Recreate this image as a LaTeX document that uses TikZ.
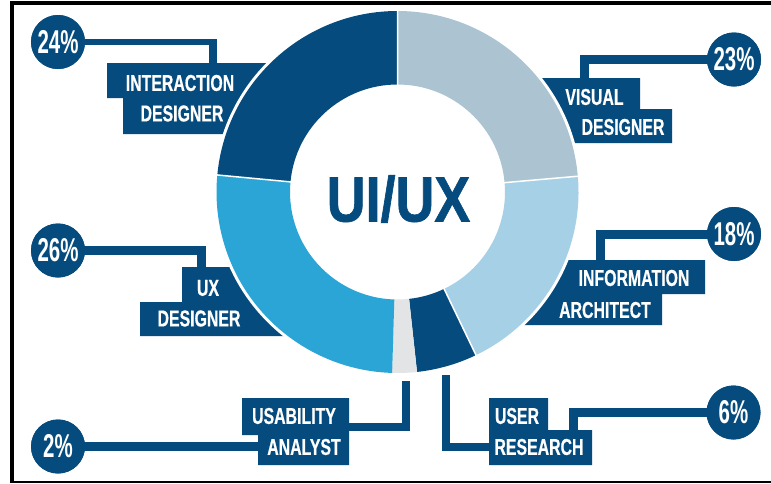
\documentclass[tikz,border=0pt]{standalone}
\usepackage{fontspec}
\setmainfont{Liberation Sans}
\newfontfamily\lblfont[FakeStretch=0.69,FakeBold=0.6]{Liberation Sans Bold}
\newfontfamily\pctfont[FakeStretch=0.62]{Liberation Sans}
\newfontfamily\ttlfont[FakeStretch=0.84,FakeBold=1]{Liberation Sans Bold}
\definecolor{navy}{HTML}{054B7D}
\definecolor{skyb}{HTML}{2AA5D5}
\definecolor{greyb}{HTML}{ACC4D2}
\definecolor{paleb}{HTML}{A6D0E6}
\definecolor{lgrey}{HTML}{E2E4E6}
\tikzset{
  pct/.style={circle,fill=navy,draw=none,minimum size=54pt,inner sep=0pt,text=white,font=\pctfont\fontsize{33}{33}\selectfont\bfseries},
  lbl/.style={text=white,inner sep=0pt,font=\lblfont\fontsize{23}{23}\selectfont},
  plate/.style={fill=navy,draw=none},
  conn/.style={draw=navy,line width=9pt},
}
\newcommand{\seg}[3]{\fill[#1] (#2:181) arc[start angle=#2,end angle=#3,radius=181] -- (#3:107.5) arc[start angle=#3,end angle=#2,radius=107.5] -- cycle;}
\begin{document}
\begin{tikzpicture}[x=1pt,y=-1pt]
\useasboundingbox (0,0) rectangle (771,483);
\fill[white] (0,0) rectangle (771,483);
% plates
\fill[plate] (107,63) -- (300,63) -- (300,134) -- (123,134) -- (123,98) -- (107,98) -- cycle;
\fill[plate] (500,78) -- (640,78) -- (640,109) -- (672,109) -- (672,143) -- (500,143) -- cycle;
\fill[plate] (500,260) -- (705,260) -- (705,294) -- (662,294) -- (662,325) -- (500,325) -- cycle;
\fill[plate] (182,267) -- (320,267) -- (320,336) -- (140,336) -- (140,302) -- (182,302) -- cycle;
\fill[plate] (242,398) -- (349,398) -- (349,465) -- (258,465) -- (258,435) -- (242,435) -- cycle;
\fill[plate] (489,398) -- (548,398) -- (548,430) -- (592,430) -- (592,465) -- (489,465) -- cycle;
% anchors of the connectors
\coordinate (a24) at (212.5,63);
\coordinate (a23) at (584,78);
\coordinate (a18) at (600.5,260);
\coordinate (a26) at (201,267);
\coordinate (a02) at (258,446.5);
\coordinate (a06) at (573.5,430);
\coordinate (u02) at (405.5,381);
\coordinate (p02) at (349,427);
\coordinate (u06) at (446,375);
\coordinate (p06) at (489,447);
% percent bubbles
\node[pct] (c24) at (58,42) {};
\node[pct] (c23) at (734,59.5) {};
\node[pct] (c18) at (734,234) {};
\node[pct] (c26) at (58,250.5) {};
\node[pct] (c02) at (58,446.5) {};
\node[pct] (c06) at (733.5,412.5) {};
% connectors
\draw[conn,line width=6pt] (c24.center) -- (c24.center -| a24);
\draw[conn,line width=8pt] ([yshift=3pt]c24.center -| a24) -- (a24);
\draw[conn] (c23.center) -| (a23);
\draw[conn] (c18.center) -| (a18);
\draw[conn] (c26.center) -| (a26);
\draw[conn] (c02.center) -- (a02);
\draw[conn,line width=8pt] (p02) -| (u02);
\draw[conn,line width=8pt] (u06) |- (p06);
\draw[conn] (c06.center) -| (a06);
\node[pct] at (c24) {24\%};
\node[pct] at (c23) {23\%};
\node[pct] at (c18) {18\%};
\node[pct] at (c26) {26\%};
\node[pct] at (c02) {2\%};
\node[pct] at (c06) {6\%};
% donut
\begin{scope}[shift={(397.5,192)},y=1pt]
\fill[white] (0,0) circle[radius=184];
\seg{greyb}{90}{5}
\seg{paleb}{5}{-64.3}
\seg{navy}{-64.3}{-83.8}
\seg{lgrey}{-83.8}{-91.7}
\seg{skyb}{-91.7}{-185.4}
\seg{navy}{-185.4}{-270}
\draw[white,line width=1.5pt] (90:105) -- (90:183) (5:105) -- (5:183) (-64.3:105) -- (-64.3:183) (-185.4:105) -- (-185.4:183);
\end{scope}
\node[text=navy,inner sep=0pt,font=\ttlfont\fontsize{64}{64}\selectfont] (title) at (398.5,199) {UI/UX};
% labels
\node[lbl] (t1) at (180,83) {INTERACTION};
\node[lbl] (t2) at (182,113.5) {DESIGNER};
\node[lbl] (t3) at (594.5,97) {VISUAL};
\node[lbl] (t4) at (623,127) {DESIGNER};
\node[lbl] (t5) at (634,278) {INFORMATION};
\node[lbl] (t6) at (605,310) {ARCHITECT};
\node[lbl] (t7) at (208,288) {UX};
\node[lbl] (t8) at (199,318.5) {DESIGNER};
\node[lbl] (t9) at (294,416) {USABILITY};
\node[lbl] (t10) at (304,447) {ANALYST};
\node[lbl] (t11) at (517,416) {USER};
\node[lbl] (t12) at (539,447) {RESEARCH};
% frame
\fill[black] (10,1) rectangle (771,5);
\fill[black] (10,1) rectangle (14,483);
\fill[black] (10,481) rectangle (771,483);
\end{tikzpicture}
\end{document}
